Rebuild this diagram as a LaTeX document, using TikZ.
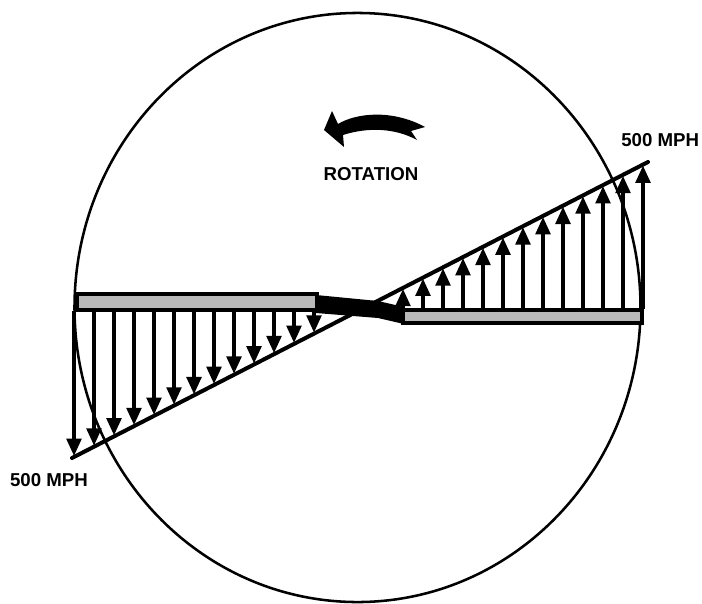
\documentclass[tikz,border=0pt]{standalone}
\usepackage{fontspec}
\setmainfont{Liberation Sans}
\usetikzlibrary{arrows.meta}
\begin{document}
\begin{tikzpicture}[x=0.75pt,y=-0.75pt,
  rim/.style={line width=1.9pt},
  bladebar/.style={draw=black,line width=3pt,fill=gray!55},
  vel/.style={line width=2.6pt,-{Triangle[length=13pt,width=11pt]}},
  profile/.style={line width=3pt,line cap=round},
  lbl/.style={font=\bfseries\fontsize{14}{16}\selectfont,inner sep=0pt}]
\useasboundingbox (0,0) rectangle (702,603);
% rotor disc
\draw[rim] (357.5,307.5) ellipse [x radius=212.25pt, y radius=220.9pt];
% blade
\path[bladebar] (77,294) rectangle (317,310);
\path[bladebar] (403,310) rectangle (642,323);
\fill (316,295) -- (378,301) -- (404,307) -- (404,324) -- (378,318) -- (316,313) -- cycle;
% velocity arrows
\foreach \i in {0,...,12}{
  \pgfmathsetmacro{\xl}{74+20*\i}
  \pgfmathsetmacro{\yl}{458-0.5139*(\xl-72)-1}
  \draw[vel] (\xl,311) -- (\xl,\yl);
  \pgfmathsetmacro{\xr}{403+20*\i}
  \pgfmathsetmacro{\yr}{458-0.5139*(\xr-72)+1}
  \draw[vel] (\xr,309) -- (\xr,\yr);
}
\coordinate (pl) at (72,458);
\coordinate (pr) at (648,162);
\draw[profile] (pl) -- (pr);
% rotation arrow
\fill (324,130) -- (332,111) -- (338,124)
  .. controls (356,113) and (392,109) .. (425,127)
  -- (411,131) -- (417,140)
  .. controls (395,128) and (368,127) .. (343,135)
  -- (344,147) -- cycle;
\node[lbl] (rot) at (371,174) {ROTATION};
\node[lbl,anchor=west] (v2) at (621,140) {500 MPH};
\node[lbl] (v1) at (49,480) {500 MPH};
\end{tikzpicture}
\end{document}
